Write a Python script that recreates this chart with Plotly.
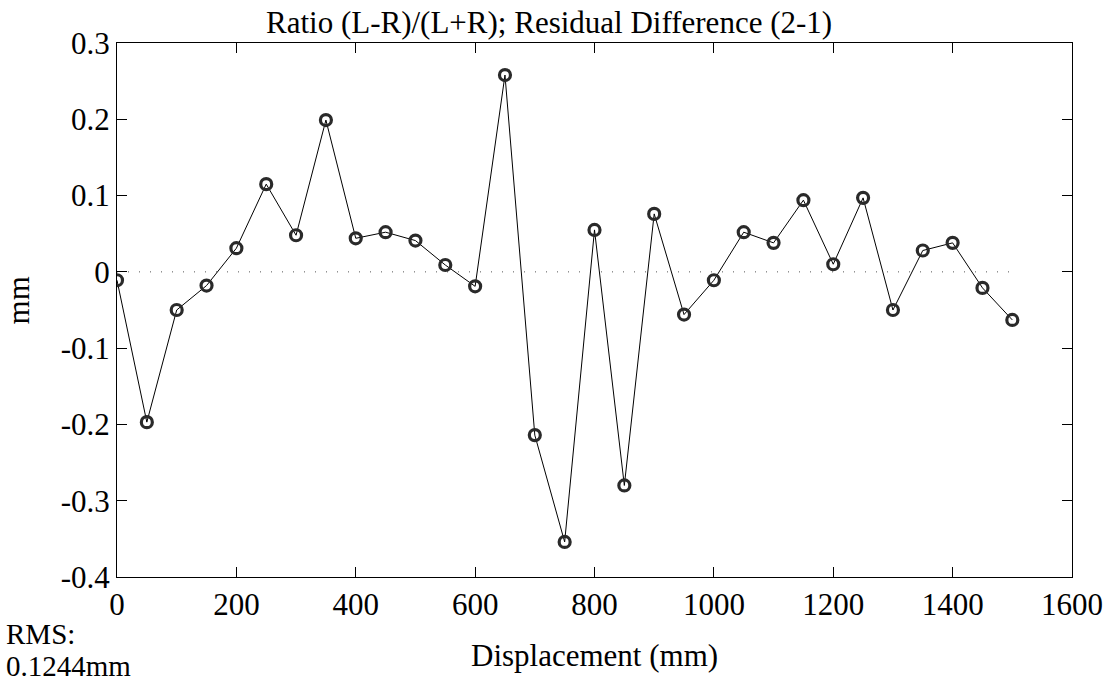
import plotly.graph_objects as go

# Data
displacement = [0, 50, 100, 150, 200, 250, 300, 350, 400, 450, 500, 550, 600, 650, 700, 750,
                800, 850, 900, 950, 1000, 1050, 1100, 1150, 1200, 1250, 1300, 1350, 1400, 1450, 1500]
residual = [-0.011, -0.197, -0.050, -0.018, 0.031, 0.115, 0.048, 0.199, 0.044, 0.052, 0.041,
            0.009, -0.019, 0.258, -0.214, -0.354, 0.055, -0.280, 0.076, -0.056, -0.011, 0.052,
            0.038, 0.094, 0.010, 0.097, -0.050, 0.028, 0.038, -0.021, -0.063]
zero_x = [0, 1500]
zero_y = [0, 0]
x_ticks = [0, 200, 400, 600, 800, 1000, 1200, 1400, 1600]
y_ticks = [0.3, 0.2, 0.1, 0, -0.1, -0.2, -0.3, -0.4]
y_tick_text = ["0.3", "0.2", "0.1", "0", "-0.1", "-0.2", "-0.3", "-0.4"]

title_text = "Ratio (L-R)/(L+R); Residual Difference (2-1)"
x_title = "Displacement (mm)"
y_title = "mm"
rms_lines = ["RMS:", "0.1244mm"]

FONT = "Liberation Serif"
FS = 31
W, H = 1115, 685
L, R, T, B = 117, 39, 43, 108
pw, ph = W - L - R, H - T - B

fig = go.Figure()
fig.add_trace(go.Scatter(x=zero_x, y=zero_y, mode="lines",
                         line=dict(color="#555555", width=1, dash="1px,10px"),
                         hoverinfo="skip", showlegend=False))
fig.add_trace(go.Scatter(x=displacement, y=residual, mode="lines+markers",
                         line=dict(color="black", width=1),
                         marker=dict(symbol="circle-open", size=11, color="#2a2a2a",
                                     line=dict(width=3.2, color="#2a2a2a")),
                         showlegend=False))

axis_common = dict(showline=True, linecolor="black", linewidth=1, mirror="ticks",
                   ticks="inside", ticklen=10, tickcolor="black", tickwidth=1,
                   showgrid=False, zeroline=False,
                   tickfont=dict(family=FONT, size=FS, color="black"))

fig.update_layout(
    width=W, height=H,
    margin=dict(l=L, r=R, t=T, b=B, pad=0),
    paper_bgcolor="white", plot_bgcolor="white",
    font=dict(family=FONT, size=FS, color="black"),
    xaxis=dict(range=[0, 1600], tickvals=x_ticks, **axis_common),
    yaxis=dict(range=[-0.4, 0.3], tickvals=y_ticks, ticktext=y_tick_text, **axis_common),
)

def px_x(px):
    return (px - L) / pw

def px_y(py):
    return (H - B - py) / ph

fig.add_annotation(text=title_text, xref="paper", yref="paper",
                   x=px_x(551), y=px_y(22), showarrow=False,
                   font=dict(family=FONT, size=FS, color="black"),
                   xanchor="center", yanchor="middle")
fig.add_annotation(text=x_title, xref="paper", yref="paper",
                   x=px_x(596), y=px_y(655), showarrow=False,
                   font=dict(family=FONT, size=FS, color="black"),
                   xanchor="center", yanchor="middle")
fig.add_annotation(text=y_title, xref="paper", yref="paper",
                   x=px_x(18), y=px_y(300), showarrow=False, textangle=-90,
                   font=dict(family=FONT, size=FS, color="black"),
                   xanchor="center", yanchor="middle")
fig.add_annotation(text=rms_lines[0], xref="paper", yref="paper",
                   x=px_x(4), y=px_y(634), showarrow=False,
                   font=dict(family=FONT, size=29, color="black"),
                   xanchor="left", yanchor="middle")
fig.add_annotation(text=rms_lines[1], xref="paper", yref="paper",
                   x=px_x(4), y=px_y(666), showarrow=False,
                   font=dict(family=FONT, size=29, color="black"),
                   xanchor="left", yanchor="middle")

fig.write_html("out.html")
